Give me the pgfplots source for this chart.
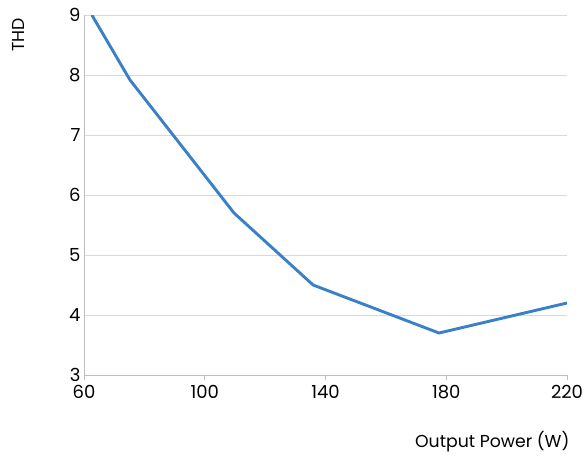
\documentclass[border=0pt]{standalone}
\usepackage{pgfplots}
\pgfplotsset{compat=1.18}
\usepackage{fontspec}
\setmainfont{Poppins}
\definecolor{lineblue}{HTML}{3A80C9}
\definecolor{gridgray}{HTML}{D9D9D9}
\definecolor{axisgray}{HTML}{BFBFBF}
\begin{document}
\begin{tikzpicture}
\useasboundingbox (-84pt,-84pt) rectangle (504pt,375pt);
\begin{axis}[
  scale only axis,
  width=483pt, height=360pt,
  xmin=60, xmax=220, ymin=3, ymax=9,
  xtick={60,100,140,180,220},
  ytick={3,4,5,6,7,8,9},
  axis x line*=bottom,
  axis y line*=left,
  axis line style={draw=axisgray, line width=0.8pt, -},
  ymajorgrids,
  grid style={draw=gridgray, line width=0.8pt},
  ytick style={draw=none},
  xtick style={draw=axisgray, line width=0.8pt},
  xtick align=outside,
  major tick length=5pt,
  tick label style={font=\fontsize{18}{21}\selectfont, text=black},
  /pgf/number format/assume math mode=true,
  yticklabel style={xshift=0pt},
  xticklabel style={yshift=-2pt},
  xlabel={Output Power (W)},
  ylabel={THD},
  label style={font=\fontsize{17.3}{20}\selectfont},
  xlabel style={at={(axis description cs:1.0124,-0.186)}, anchor=east},
  ylabel style={at={(axis description cs:-0.1366,0.945)}, anchor=center, rotate=0},
]
\addplot[color=lineblue, line width=2.9pt, line join=round] coordinates {
  (62.6,9.0) (75.2,7.92) (109.7,5.7) (135.9,4.5) (177.6,3.7) (220,4.2)
};
\end{axis}
\end{tikzpicture}
\end{document}
